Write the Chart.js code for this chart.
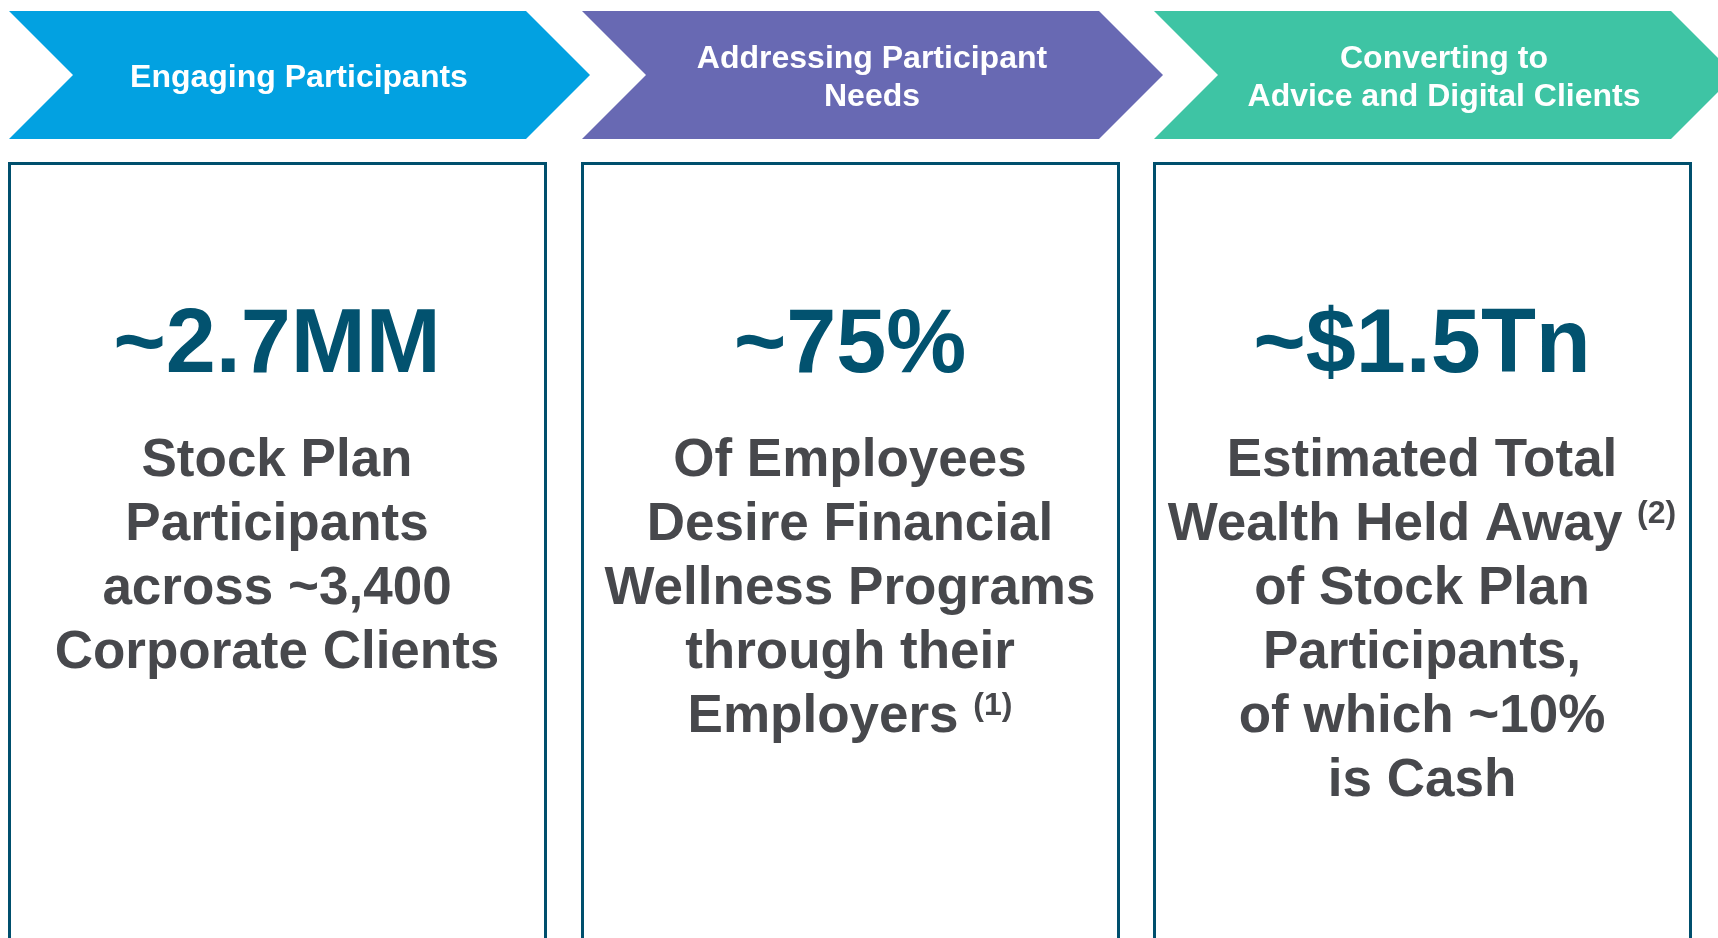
<!DOCTYPE html>
<html>
<head>
<meta charset="utf-8">
<script src="https://cdn.jsdelivr.net/npm/chart.js@4.4.1/dist/chart.umd.min.js"></script>
<style>
  html, body { margin: 0; padding: 0; background: #fff; overflow: hidden; }
  #wrap { width: 1736px; height: 938px; }
</style>
</head>
<body>
<div id="wrap"><canvas id="funnel" width="1736" height="938"></canvas></div>
<script>
// Stage headers (one array of lines per column)
const stageTitles = [
    ['Engaging Participants'],
    ['Addressing Participant', 'Needs'],
    ['Converting to', 'Advice and Digital Clients']
];

// Headline figure for each stage
const headlineFigures = ['~2.7MM', '~75%', '~$1.5Tn'];

// Supporting text under each figure
const descriptions = [
    ['Stock Plan', 'Participants', 'across ~3,400', 'Corporate Clients'],
    ['Of Employees', 'Desire Financial', 'Wellness Programs', 'through their', 'Employers'],
    ['Estimated Total', 'Wealth Held Away', 'of Stock Plan', 'Participants,', 'of which ~10%', 'is Cash']
];

// Footnote markers and the line they hang off
const footnoteMarks = [null, '(1)', '(2)'];
const footnoteLines = [null, 4, 1];

const stageColors = ['#02A1E1', '#6869B3', '#3EC4A4'];
const FONT = '"Liberation Sans", Arial, Helvetica, sans-serif';

const panelsPlugin = {
    id: 'panels',
    afterDraw(chart) {
        const ctx = chart.ctx;
        const xs = chart.scales.x;
        const colW = chart.chartArea.width / stageTitles.length;

        stageTitles.forEach((title, i) => {
            const x0 = Math.round(xs.getPixelForValue(i) - colW / 2);

            // chevron
            ctx.save();
            ctx.fillStyle = stageColors[i];
            ctx.beginPath();
            ctx.moveTo(x0, 11);
            ctx.lineTo(x0 + 517, 11);
            ctx.lineTo(x0 + 581, 75);
            ctx.lineTo(x0 + 517, 139);
            ctx.lineTo(x0, 139);
            ctx.lineTo(x0 + 64, 75);
            ctx.closePath();
            ctx.fill();

            ctx.fillStyle = '#ffffff';
            ctx.font = 'bold 32px ' + FONT;
            ctx.textAlign = 'center';
            ctx.textBaseline = 'alphabetic';
            const hx = x0 + 290;
            title.forEach((line, k) => {
                ctx.fillText(line, hx, 86.5 + (k - (title.length - 1) / 2) * 38);
            });

            // box
            ctx.strokeStyle = '#004F6D';
            ctx.lineWidth = 3;
            ctx.strokeRect(x0 + 0.5, 163.5, 536, 820);

            const cx = x0 + 268;

            // headline figure
            ctx.fillStyle = '#02526F';
            ctx.font = 'bold 90px ' + FONT;
            ctx.fillText(headlineFigures[i], cx, 372);

            // description lines
            ctx.fillStyle = '#47484C';
            descriptions[i].forEach((line, k) => {
                const y = 476 + k * 64;
                ctx.font = 'bold 53px ' + FONT;
                if (footnoteLines[i] === k) {
                    const mainW = ctx.measureText(line + ' ').width;
                    ctx.font = 'bold 32px ' + FONT;
                    const supW = ctx.measureText(footnoteMarks[i]).width;
                    const start = cx - (mainW + supW) / 2;
                    ctx.textAlign = 'left';
                    ctx.fillText(footnoteMarks[i], start + mainW, y - 17);
                    ctx.font = 'bold 53px ' + FONT;
                    ctx.fillText(line, start, y);
                    ctx.textAlign = 'center';
                } else {
                    ctx.fillText(line, cx, y);
                }
            });
            ctx.restore();
        });
    }
};

new Chart(document.getElementById('funnel'), {
    type: 'bar',
    data: {
        labels: stageTitles.map(t => t.join(' ')),
        datasets: [{ data: [null, null, null] }]
    },
    options: {
        responsive: false,
        animation: false,
        events: [],
        layout: { padding: { left: 9, right: 9, top: 0, bottom: 0 } },
        scales: {
            x: { display: false, offset: true },
            y: { display: false, min: 0, max: 1 }
        },
        plugins: {
            legend: { display: false },
            tooltip: { enabled: false }
        }
    },
    plugins: [panelsPlugin]
});
</script>
</body>
</html>
